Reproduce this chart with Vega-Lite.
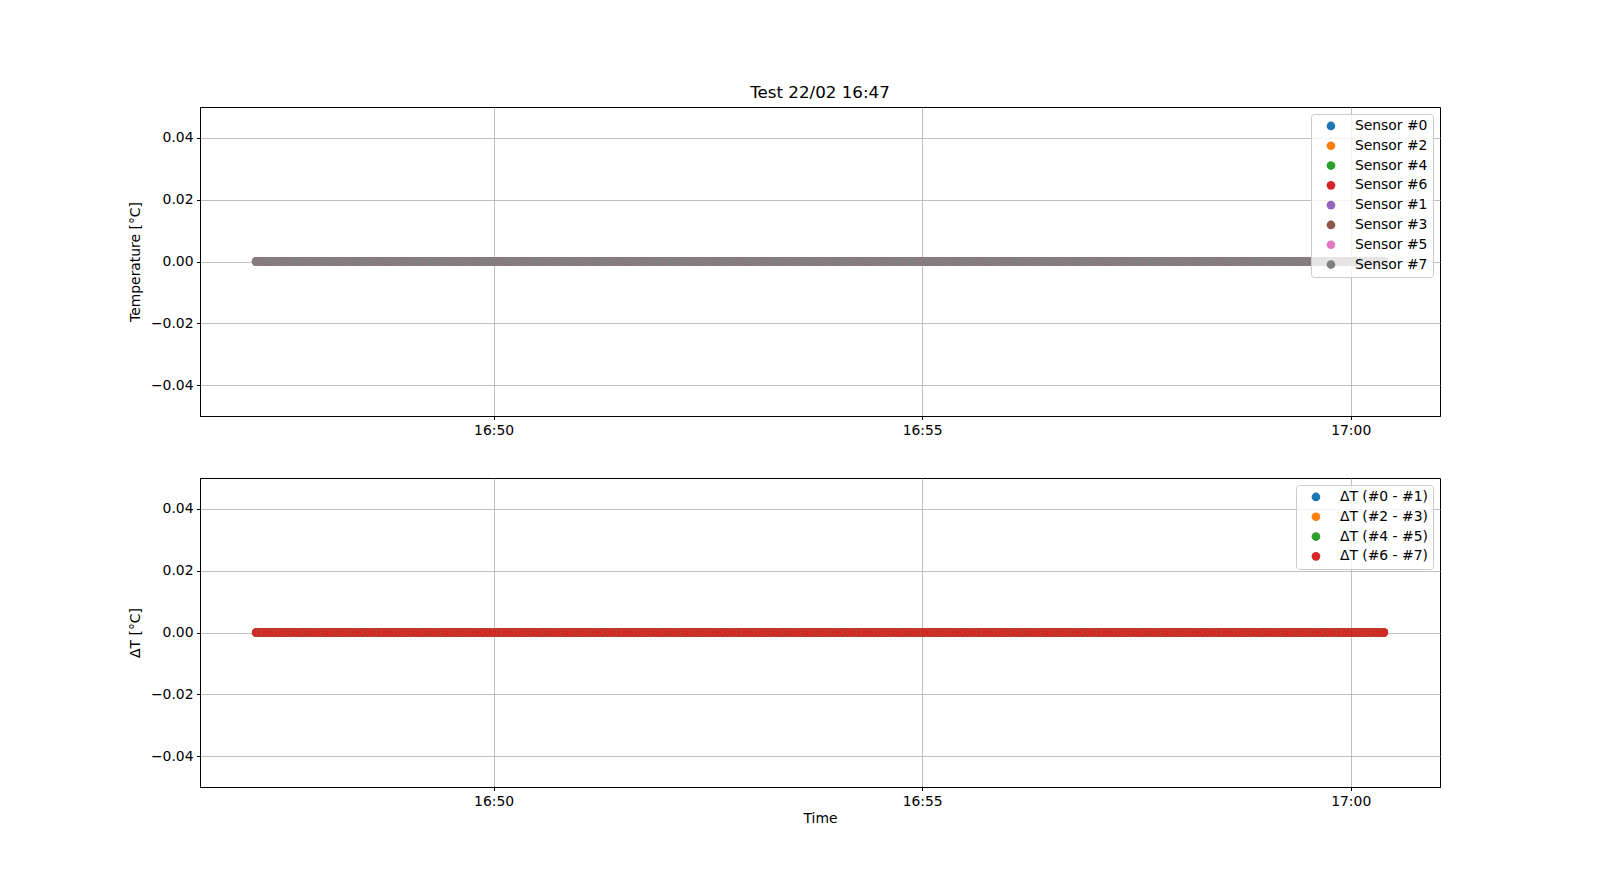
{
"$schema": "https://vega.github.io/schema/vega-lite/v6.json",
"padding": {"left": 127, "top": 84, "right": 10, "bottom": 10},
"background": "white",
"spacing": 39,
"resolve": {"scale": {"color": "independent"}, "legend": {"color": "independent"}},
"config": {
  "font": "DejaVu Sans",
  "view": {"stroke": "black", "strokeWidth": 1},
  "axis": {"labelFont": "DejaVu Sans", "titleFont": "DejaVu Sans", "labelFontSize": 13.9, "titleFontSize": 13.9, "titleFontWeight": "normal", "labelColor": "black", "titleColor": "black", "tickColor": "black", "domainColor": "black", "tickSize": 3.5, "labelPadding": 3.5, "gridColor": "#b0b0b0", "gridWidth": 0.8, "domainWidth": 1},
  "legend": {"labelFont": "DejaVu Sans", "labelFontSize": 13.9, "labelColor": "black", "symbolType": "circle", "symbolSize": 75, "symbolStrokeWidth": 0, "symbolOpacity": 1, "rowPadding": 4.8, "padding": 5, "strokeColor": "#cccccc", "fillColor": "rgba(255,255,255,0.8)", "cornerRadius": 3, "offset": 7, "labelOffset": 17, "symbolOffset": 8}
},
"datasets": {"d": [
{"t":"2023-02-22T16:47:14","a":0,"b":0,"c":0,"d":0,"e":0,"f":0,"g":0,"h":0,"p":0,"q":0,"r":0,"s":0},
{"t":"2023-02-22T16:47:17","a":0,"b":0,"c":0,"d":0,"e":0,"f":0,"g":0,"h":0,"p":0,"q":0,"r":0,"s":0},
{"t":"2023-02-22T16:47:20","a":0,"b":0,"c":0,"d":0,"e":0,"f":0,"g":0,"h":0,"p":0,"q":0,"r":0,"s":0},
{"t":"2023-02-22T16:47:23","a":0,"b":0,"c":0,"d":0,"e":0,"f":0,"g":0,"h":0,"p":0,"q":0,"r":0,"s":0},
{"t":"2023-02-22T16:47:26","a":0,"b":0,"c":0,"d":0,"e":0,"f":0,"g":0,"h":0,"p":0,"q":0,"r":0,"s":0},
{"t":"2023-02-22T16:47:29","a":0,"b":0,"c":0,"d":0,"e":0,"f":0,"g":0,"h":0,"p":0,"q":0,"r":0,"s":0},
{"t":"2023-02-22T16:47:32","a":0,"b":0,"c":0,"d":0,"e":0,"f":0,"g":0,"h":0,"p":0,"q":0,"r":0,"s":0},
{"t":"2023-02-22T16:47:35","a":0,"b":0,"c":0,"d":0,"e":0,"f":0,"g":0,"h":0,"p":0,"q":0,"r":0,"s":0},
{"t":"2023-02-22T16:47:38","a":0,"b":0,"c":0,"d":0,"e":0,"f":0,"g":0,"h":0,"p":0,"q":0,"r":0,"s":0},
{"t":"2023-02-22T16:47:41","a":0,"b":0,"c":0,"d":0,"e":0,"f":0,"g":0,"h":0,"p":0,"q":0,"r":0,"s":0},
{"t":"2023-02-22T16:47:44","a":0,"b":0,"c":0,"d":0,"e":0,"f":0,"g":0,"h":0,"p":0,"q":0,"r":0,"s":0},
{"t":"2023-02-22T16:47:47","a":0,"b":0,"c":0,"d":0,"e":0,"f":0,"g":0,"h":0,"p":0,"q":0,"r":0,"s":0},
{"t":"2023-02-22T16:47:50","a":0,"b":0,"c":0,"d":0,"e":0,"f":0,"g":0,"h":0,"p":0,"q":0,"r":0,"s":0},
{"t":"2023-02-22T16:47:53","a":0,"b":0,"c":0,"d":0,"e":0,"f":0,"g":0,"h":0,"p":0,"q":0,"r":0,"s":0},
{"t":"2023-02-22T16:47:56","a":0,"b":0,"c":0,"d":0,"e":0,"f":0,"g":0,"h":0,"p":0,"q":0,"r":0,"s":0},
{"t":"2023-02-22T16:47:59","a":0,"b":0,"c":0,"d":0,"e":0,"f":0,"g":0,"h":0,"p":0,"q":0,"r":0,"s":0},
{"t":"2023-02-22T16:48:02","a":0,"b":0,"c":0,"d":0,"e":0,"f":0,"g":0,"h":0,"p":0,"q":0,"r":0,"s":0},
{"t":"2023-02-22T16:48:05","a":0,"b":0,"c":0,"d":0,"e":0,"f":0,"g":0,"h":0,"p":0,"q":0,"r":0,"s":0},
{"t":"2023-02-22T16:48:08","a":0,"b":0,"c":0,"d":0,"e":0,"f":0,"g":0,"h":0,"p":0,"q":0,"r":0,"s":0},
{"t":"2023-02-22T16:48:11","a":0,"b":0,"c":0,"d":0,"e":0,"f":0,"g":0,"h":0,"p":0,"q":0,"r":0,"s":0},
{"t":"2023-02-22T16:48:14","a":0,"b":0,"c":0,"d":0,"e":0,"f":0,"g":0,"h":0,"p":0,"q":0,"r":0,"s":0},
{"t":"2023-02-22T16:48:17","a":0,"b":0,"c":0,"d":0,"e":0,"f":0,"g":0,"h":0,"p":0,"q":0,"r":0,"s":0},
{"t":"2023-02-22T16:48:20","a":0,"b":0,"c":0,"d":0,"e":0,"f":0,"g":0,"h":0,"p":0,"q":0,"r":0,"s":0},
{"t":"2023-02-22T16:48:23","a":0,"b":0,"c":0,"d":0,"e":0,"f":0,"g":0,"h":0,"p":0,"q":0,"r":0,"s":0},
{"t":"2023-02-22T16:48:26","a":0,"b":0,"c":0,"d":0,"e":0,"f":0,"g":0,"h":0,"p":0,"q":0,"r":0,"s":0},
{"t":"2023-02-22T16:48:29","a":0,"b":0,"c":0,"d":0,"e":0,"f":0,"g":0,"h":0,"p":0,"q":0,"r":0,"s":0},
{"t":"2023-02-22T16:48:32","a":0,"b":0,"c":0,"d":0,"e":0,"f":0,"g":0,"h":0,"p":0,"q":0,"r":0,"s":0},
{"t":"2023-02-22T16:48:35","a":0,"b":0,"c":0,"d":0,"e":0,"f":0,"g":0,"h":0,"p":0,"q":0,"r":0,"s":0},
{"t":"2023-02-22T16:48:38","a":0,"b":0,"c":0,"d":0,"e":0,"f":0,"g":0,"h":0,"p":0,"q":0,"r":0,"s":0},
{"t":"2023-02-22T16:48:41","a":0,"b":0,"c":0,"d":0,"e":0,"f":0,"g":0,"h":0,"p":0,"q":0,"r":0,"s":0},
{"t":"2023-02-22T16:48:44","a":0,"b":0,"c":0,"d":0,"e":0,"f":0,"g":0,"h":0,"p":0,"q":0,"r":0,"s":0},
{"t":"2023-02-22T16:48:47","a":0,"b":0,"c":0,"d":0,"e":0,"f":0,"g":0,"h":0,"p":0,"q":0,"r":0,"s":0},
{"t":"2023-02-22T16:48:50","a":0,"b":0,"c":0,"d":0,"e":0,"f":0,"g":0,"h":0,"p":0,"q":0,"r":0,"s":0},
{"t":"2023-02-22T16:48:53","a":0,"b":0,"c":0,"d":0,"e":0,"f":0,"g":0,"h":0,"p":0,"q":0,"r":0,"s":0},
{"t":"2023-02-22T16:48:56","a":0,"b":0,"c":0,"d":0,"e":0,"f":0,"g":0,"h":0,"p":0,"q":0,"r":0,"s":0},
{"t":"2023-02-22T16:48:59","a":0,"b":0,"c":0,"d":0,"e":0,"f":0,"g":0,"h":0,"p":0,"q":0,"r":0,"s":0},
{"t":"2023-02-22T16:49:02","a":0,"b":0,"c":0,"d":0,"e":0,"f":0,"g":0,"h":0,"p":0,"q":0,"r":0,"s":0},
{"t":"2023-02-22T16:49:05","a":0,"b":0,"c":0,"d":0,"e":0,"f":0,"g":0,"h":0,"p":0,"q":0,"r":0,"s":0},
{"t":"2023-02-22T16:49:08","a":0,"b":0,"c":0,"d":0,"e":0,"f":0,"g":0,"h":0,"p":0,"q":0,"r":0,"s":0},
{"t":"2023-02-22T16:49:11","a":0,"b":0,"c":0,"d":0,"e":0,"f":0,"g":0,"h":0,"p":0,"q":0,"r":0,"s":0},
{"t":"2023-02-22T16:49:14","a":0,"b":0,"c":0,"d":0,"e":0,"f":0,"g":0,"h":0,"p":0,"q":0,"r":0,"s":0},
{"t":"2023-02-22T16:49:17","a":0,"b":0,"c":0,"d":0,"e":0,"f":0,"g":0,"h":0,"p":0,"q":0,"r":0,"s":0},
{"t":"2023-02-22T16:49:20","a":0,"b":0,"c":0,"d":0,"e":0,"f":0,"g":0,"h":0,"p":0,"q":0,"r":0,"s":0},
{"t":"2023-02-22T16:49:23","a":0,"b":0,"c":0,"d":0,"e":0,"f":0,"g":0,"h":0,"p":0,"q":0,"r":0,"s":0},
{"t":"2023-02-22T16:49:26","a":0,"b":0,"c":0,"d":0,"e":0,"f":0,"g":0,"h":0,"p":0,"q":0,"r":0,"s":0},
{"t":"2023-02-22T16:49:29","a":0,"b":0,"c":0,"d":0,"e":0,"f":0,"g":0,"h":0,"p":0,"q":0,"r":0,"s":0},
{"t":"2023-02-22T16:49:32","a":0,"b":0,"c":0,"d":0,"e":0,"f":0,"g":0,"h":0,"p":0,"q":0,"r":0,"s":0},
{"t":"2023-02-22T16:49:35","a":0,"b":0,"c":0,"d":0,"e":0,"f":0,"g":0,"h":0,"p":0,"q":0,"r":0,"s":0},
{"t":"2023-02-22T16:49:38","a":0,"b":0,"c":0,"d":0,"e":0,"f":0,"g":0,"h":0,"p":0,"q":0,"r":0,"s":0},
{"t":"2023-02-22T16:49:41","a":0,"b":0,"c":0,"d":0,"e":0,"f":0,"g":0,"h":0,"p":0,"q":0,"r":0,"s":0},
{"t":"2023-02-22T16:49:44","a":0,"b":0,"c":0,"d":0,"e":0,"f":0,"g":0,"h":0,"p":0,"q":0,"r":0,"s":0},
{"t":"2023-02-22T16:49:47","a":0,"b":0,"c":0,"d":0,"e":0,"f":0,"g":0,"h":0,"p":0,"q":0,"r":0,"s":0},
{"t":"2023-02-22T16:49:50","a":0,"b":0,"c":0,"d":0,"e":0,"f":0,"g":0,"h":0,"p":0,"q":0,"r":0,"s":0},
{"t":"2023-02-22T16:49:53","a":0,"b":0,"c":0,"d":0,"e":0,"f":0,"g":0,"h":0,"p":0,"q":0,"r":0,"s":0},
{"t":"2023-02-22T16:49:56","a":0,"b":0,"c":0,"d":0,"e":0,"f":0,"g":0,"h":0,"p":0,"q":0,"r":0,"s":0},
{"t":"2023-02-22T16:49:59","a":0,"b":0,"c":0,"d":0,"e":0,"f":0,"g":0,"h":0,"p":0,"q":0,"r":0,"s":0},
{"t":"2023-02-22T16:50:02","a":0,"b":0,"c":0,"d":0,"e":0,"f":0,"g":0,"h":0,"p":0,"q":0,"r":0,"s":0},
{"t":"2023-02-22T16:50:05","a":0,"b":0,"c":0,"d":0,"e":0,"f":0,"g":0,"h":0,"p":0,"q":0,"r":0,"s":0},
{"t":"2023-02-22T16:50:08","a":0,"b":0,"c":0,"d":0,"e":0,"f":0,"g":0,"h":0,"p":0,"q":0,"r":0,"s":0},
{"t":"2023-02-22T16:50:11","a":0,"b":0,"c":0,"d":0,"e":0,"f":0,"g":0,"h":0,"p":0,"q":0,"r":0,"s":0},
{"t":"2023-02-22T16:50:14","a":0,"b":0,"c":0,"d":0,"e":0,"f":0,"g":0,"h":0,"p":0,"q":0,"r":0,"s":0},
{"t":"2023-02-22T16:50:17","a":0,"b":0,"c":0,"d":0,"e":0,"f":0,"g":0,"h":0,"p":0,"q":0,"r":0,"s":0},
{"t":"2023-02-22T16:50:20","a":0,"b":0,"c":0,"d":0,"e":0,"f":0,"g":0,"h":0,"p":0,"q":0,"r":0,"s":0},
{"t":"2023-02-22T16:50:23","a":0,"b":0,"c":0,"d":0,"e":0,"f":0,"g":0,"h":0,"p":0,"q":0,"r":0,"s":0},
{"t":"2023-02-22T16:50:26","a":0,"b":0,"c":0,"d":0,"e":0,"f":0,"g":0,"h":0,"p":0,"q":0,"r":0,"s":0},
{"t":"2023-02-22T16:50:29","a":0,"b":0,"c":0,"d":0,"e":0,"f":0,"g":0,"h":0,"p":0,"q":0,"r":0,"s":0},
{"t":"2023-02-22T16:50:32","a":0,"b":0,"c":0,"d":0,"e":0,"f":0,"g":0,"h":0,"p":0,"q":0,"r":0,"s":0},
{"t":"2023-02-22T16:50:35","a":0,"b":0,"c":0,"d":0,"e":0,"f":0,"g":0,"h":0,"p":0,"q":0,"r":0,"s":0},
{"t":"2023-02-22T16:50:38","a":0,"b":0,"c":0,"d":0,"e":0,"f":0,"g":0,"h":0,"p":0,"q":0,"r":0,"s":0},
{"t":"2023-02-22T16:50:41","a":0,"b":0,"c":0,"d":0,"e":0,"f":0,"g":0,"h":0,"p":0,"q":0,"r":0,"s":0},
{"t":"2023-02-22T16:50:44","a":0,"b":0,"c":0,"d":0,"e":0,"f":0,"g":0,"h":0,"p":0,"q":0,"r":0,"s":0},
{"t":"2023-02-22T16:50:47","a":0,"b":0,"c":0,"d":0,"e":0,"f":0,"g":0,"h":0,"p":0,"q":0,"r":0,"s":0},
{"t":"2023-02-22T16:50:50","a":0,"b":0,"c":0,"d":0,"e":0,"f":0,"g":0,"h":0,"p":0,"q":0,"r":0,"s":0},
{"t":"2023-02-22T16:50:53","a":0,"b":0,"c":0,"d":0,"e":0,"f":0,"g":0,"h":0,"p":0,"q":0,"r":0,"s":0},
{"t":"2023-02-22T16:50:56","a":0,"b":0,"c":0,"d":0,"e":0,"f":0,"g":0,"h":0,"p":0,"q":0,"r":0,"s":0},
{"t":"2023-02-22T16:50:59","a":0,"b":0,"c":0,"d":0,"e":0,"f":0,"g":0,"h":0,"p":0,"q":0,"r":0,"s":0},
{"t":"2023-02-22T16:51:02","a":0,"b":0,"c":0,"d":0,"e":0,"f":0,"g":0,"h":0,"p":0,"q":0,"r":0,"s":0},
{"t":"2023-02-22T16:51:05","a":0,"b":0,"c":0,"d":0,"e":0,"f":0,"g":0,"h":0,"p":0,"q":0,"r":0,"s":0},
{"t":"2023-02-22T16:51:08","a":0,"b":0,"c":0,"d":0,"e":0,"f":0,"g":0,"h":0,"p":0,"q":0,"r":0,"s":0},
{"t":"2023-02-22T16:51:11","a":0,"b":0,"c":0,"d":0,"e":0,"f":0,"g":0,"h":0,"p":0,"q":0,"r":0,"s":0},
{"t":"2023-02-22T16:51:14","a":0,"b":0,"c":0,"d":0,"e":0,"f":0,"g":0,"h":0,"p":0,"q":0,"r":0,"s":0},
{"t":"2023-02-22T16:51:17","a":0,"b":0,"c":0,"d":0,"e":0,"f":0,"g":0,"h":0,"p":0,"q":0,"r":0,"s":0},
{"t":"2023-02-22T16:51:20","a":0,"b":0,"c":0,"d":0,"e":0,"f":0,"g":0,"h":0,"p":0,"q":0,"r":0,"s":0},
{"t":"2023-02-22T16:51:23","a":0,"b":0,"c":0,"d":0,"e":0,"f":0,"g":0,"h":0,"p":0,"q":0,"r":0,"s":0},
{"t":"2023-02-22T16:51:26","a":0,"b":0,"c":0,"d":0,"e":0,"f":0,"g":0,"h":0,"p":0,"q":0,"r":0,"s":0},
{"t":"2023-02-22T16:51:29","a":0,"b":0,"c":0,"d":0,"e":0,"f":0,"g":0,"h":0,"p":0,"q":0,"r":0,"s":0},
{"t":"2023-02-22T16:51:32","a":0,"b":0,"c":0,"d":0,"e":0,"f":0,"g":0,"h":0,"p":0,"q":0,"r":0,"s":0},
{"t":"2023-02-22T16:51:35","a":0,"b":0,"c":0,"d":0,"e":0,"f":0,"g":0,"h":0,"p":0,"q":0,"r":0,"s":0},
{"t":"2023-02-22T16:51:38","a":0,"b":0,"c":0,"d":0,"e":0,"f":0,"g":0,"h":0,"p":0,"q":0,"r":0,"s":0},
{"t":"2023-02-22T16:51:41","a":0,"b":0,"c":0,"d":0,"e":0,"f":0,"g":0,"h":0,"p":0,"q":0,"r":0,"s":0},
{"t":"2023-02-22T16:51:44","a":0,"b":0,"c":0,"d":0,"e":0,"f":0,"g":0,"h":0,"p":0,"q":0,"r":0,"s":0},
{"t":"2023-02-22T16:51:47","a":0,"b":0,"c":0,"d":0,"e":0,"f":0,"g":0,"h":0,"p":0,"q":0,"r":0,"s":0},
{"t":"2023-02-22T16:51:50","a":0,"b":0,"c":0,"d":0,"e":0,"f":0,"g":0,"h":0,"p":0,"q":0,"r":0,"s":0},
{"t":"2023-02-22T16:51:53","a":0,"b":0,"c":0,"d":0,"e":0,"f":0,"g":0,"h":0,"p":0,"q":0,"r":0,"s":0},
{"t":"2023-02-22T16:51:56","a":0,"b":0,"c":0,"d":0,"e":0,"f":0,"g":0,"h":0,"p":0,"q":0,"r":0,"s":0},
{"t":"2023-02-22T16:51:59","a":0,"b":0,"c":0,"d":0,"e":0,"f":0,"g":0,"h":0,"p":0,"q":0,"r":0,"s":0},
{"t":"2023-02-22T16:52:02","a":0,"b":0,"c":0,"d":0,"e":0,"f":0,"g":0,"h":0,"p":0,"q":0,"r":0,"s":0},
{"t":"2023-02-22T16:52:05","a":0,"b":0,"c":0,"d":0,"e":0,"f":0,"g":0,"h":0,"p":0,"q":0,"r":0,"s":0},
{"t":"2023-02-22T16:52:08","a":0,"b":0,"c":0,"d":0,"e":0,"f":0,"g":0,"h":0,"p":0,"q":0,"r":0,"s":0},
{"t":"2023-02-22T16:52:11","a":0,"b":0,"c":0,"d":0,"e":0,"f":0,"g":0,"h":0,"p":0,"q":0,"r":0,"s":0},
{"t":"2023-02-22T16:52:14","a":0,"b":0,"c":0,"d":0,"e":0,"f":0,"g":0,"h":0,"p":0,"q":0,"r":0,"s":0},
{"t":"2023-02-22T16:52:17","a":0,"b":0,"c":0,"d":0,"e":0,"f":0,"g":0,"h":0,"p":0,"q":0,"r":0,"s":0},
{"t":"2023-02-22T16:52:20","a":0,"b":0,"c":0,"d":0,"e":0,"f":0,"g":0,"h":0,"p":0,"q":0,"r":0,"s":0},
{"t":"2023-02-22T16:52:23","a":0,"b":0,"c":0,"d":0,"e":0,"f":0,"g":0,"h":0,"p":0,"q":0,"r":0,"s":0},
{"t":"2023-02-22T16:52:26","a":0,"b":0,"c":0,"d":0,"e":0,"f":0,"g":0,"h":0,"p":0,"q":0,"r":0,"s":0},
{"t":"2023-02-22T16:52:29","a":0,"b":0,"c":0,"d":0,"e":0,"f":0,"g":0,"h":0,"p":0,"q":0,"r":0,"s":0},
{"t":"2023-02-22T16:52:32","a":0,"b":0,"c":0,"d":0,"e":0,"f":0,"g":0,"h":0,"p":0,"q":0,"r":0,"s":0},
{"t":"2023-02-22T16:52:35","a":0,"b":0,"c":0,"d":0,"e":0,"f":0,"g":0,"h":0,"p":0,"q":0,"r":0,"s":0},
{"t":"2023-02-22T16:52:38","a":0,"b":0,"c":0,"d":0,"e":0,"f":0,"g":0,"h":0,"p":0,"q":0,"r":0,"s":0},
{"t":"2023-02-22T16:52:41","a":0,"b":0,"c":0,"d":0,"e":0,"f":0,"g":0,"h":0,"p":0,"q":0,"r":0,"s":0},
{"t":"2023-02-22T16:52:44","a":0,"b":0,"c":0,"d":0,"e":0,"f":0,"g":0,"h":0,"p":0,"q":0,"r":0,"s":0},
{"t":"2023-02-22T16:52:47","a":0,"b":0,"c":0,"d":0,"e":0,"f":0,"g":0,"h":0,"p":0,"q":0,"r":0,"s":0},
{"t":"2023-02-22T16:52:50","a":0,"b":0,"c":0,"d":0,"e":0,"f":0,"g":0,"h":0,"p":0,"q":0,"r":0,"s":0},
{"t":"2023-02-22T16:52:53","a":0,"b":0,"c":0,"d":0,"e":0,"f":0,"g":0,"h":0,"p":0,"q":0,"r":0,"s":0},
{"t":"2023-02-22T16:52:56","a":0,"b":0,"c":0,"d":0,"e":0,"f":0,"g":0,"h":0,"p":0,"q":0,"r":0,"s":0},
{"t":"2023-02-22T16:52:59","a":0,"b":0,"c":0,"d":0,"e":0,"f":0,"g":0,"h":0,"p":0,"q":0,"r":0,"s":0},
{"t":"2023-02-22T16:53:02","a":0,"b":0,"c":0,"d":0,"e":0,"f":0,"g":0,"h":0,"p":0,"q":0,"r":0,"s":0},
{"t":"2023-02-22T16:53:05","a":0,"b":0,"c":0,"d":0,"e":0,"f":0,"g":0,"h":0,"p":0,"q":0,"r":0,"s":0},
{"t":"2023-02-22T16:53:08","a":0,"b":0,"c":0,"d":0,"e":0,"f":0,"g":0,"h":0,"p":0,"q":0,"r":0,"s":0},
{"t":"2023-02-22T16:53:11","a":0,"b":0,"c":0,"d":0,"e":0,"f":0,"g":0,"h":0,"p":0,"q":0,"r":0,"s":0},
{"t":"2023-02-22T16:53:14","a":0,"b":0,"c":0,"d":0,"e":0,"f":0,"g":0,"h":0,"p":0,"q":0,"r":0,"s":0},
{"t":"2023-02-22T16:53:17","a":0,"b":0,"c":0,"d":0,"e":0,"f":0,"g":0,"h":0,"p":0,"q":0,"r":0,"s":0},
{"t":"2023-02-22T16:53:20","a":0,"b":0,"c":0,"d":0,"e":0,"f":0,"g":0,"h":0,"p":0,"q":0,"r":0,"s":0},
{"t":"2023-02-22T16:53:23","a":0,"b":0,"c":0,"d":0,"e":0,"f":0,"g":0,"h":0,"p":0,"q":0,"r":0,"s":0},
{"t":"2023-02-22T16:53:26","a":0,"b":0,"c":0,"d":0,"e":0,"f":0,"g":0,"h":0,"p":0,"q":0,"r":0,"s":0},
{"t":"2023-02-22T16:53:29","a":0,"b":0,"c":0,"d":0,"e":0,"f":0,"g":0,"h":0,"p":0,"q":0,"r":0,"s":0},
{"t":"2023-02-22T16:53:32","a":0,"b":0,"c":0,"d":0,"e":0,"f":0,"g":0,"h":0,"p":0,"q":0,"r":0,"s":0},
{"t":"2023-02-22T16:53:35","a":0,"b":0,"c":0,"d":0,"e":0,"f":0,"g":0,"h":0,"p":0,"q":0,"r":0,"s":0},
{"t":"2023-02-22T16:53:38","a":0,"b":0,"c":0,"d":0,"e":0,"f":0,"g":0,"h":0,"p":0,"q":0,"r":0,"s":0},
{"t":"2023-02-22T16:53:41","a":0,"b":0,"c":0,"d":0,"e":0,"f":0,"g":0,"h":0,"p":0,"q":0,"r":0,"s":0},
{"t":"2023-02-22T16:53:44","a":0,"b":0,"c":0,"d":0,"e":0,"f":0,"g":0,"h":0,"p":0,"q":0,"r":0,"s":0},
{"t":"2023-02-22T16:53:47","a":0,"b":0,"c":0,"d":0,"e":0,"f":0,"g":0,"h":0,"p":0,"q":0,"r":0,"s":0},
{"t":"2023-02-22T16:53:50","a":0,"b":0,"c":0,"d":0,"e":0,"f":0,"g":0,"h":0,"p":0,"q":0,"r":0,"s":0},
{"t":"2023-02-22T16:53:53","a":0,"b":0,"c":0,"d":0,"e":0,"f":0,"g":0,"h":0,"p":0,"q":0,"r":0,"s":0},
{"t":"2023-02-22T16:53:56","a":0,"b":0,"c":0,"d":0,"e":0,"f":0,"g":0,"h":0,"p":0,"q":0,"r":0,"s":0},
{"t":"2023-02-22T16:53:59","a":0,"b":0,"c":0,"d":0,"e":0,"f":0,"g":0,"h":0,"p":0,"q":0,"r":0,"s":0},
{"t":"2023-02-22T16:54:02","a":0,"b":0,"c":0,"d":0,"e":0,"f":0,"g":0,"h":0,"p":0,"q":0,"r":0,"s":0},
{"t":"2023-02-22T16:54:05","a":0,"b":0,"c":0,"d":0,"e":0,"f":0,"g":0,"h":0,"p":0,"q":0,"r":0,"s":0},
{"t":"2023-02-22T16:54:08","a":0,"b":0,"c":0,"d":0,"e":0,"f":0,"g":0,"h":0,"p":0,"q":0,"r":0,"s":0},
{"t":"2023-02-22T16:54:11","a":0,"b":0,"c":0,"d":0,"e":0,"f":0,"g":0,"h":0,"p":0,"q":0,"r":0,"s":0},
{"t":"2023-02-22T16:54:14","a":0,"b":0,"c":0,"d":0,"e":0,"f":0,"g":0,"h":0,"p":0,"q":0,"r":0,"s":0},
{"t":"2023-02-22T16:54:17","a":0,"b":0,"c":0,"d":0,"e":0,"f":0,"g":0,"h":0,"p":0,"q":0,"r":0,"s":0},
{"t":"2023-02-22T16:54:20","a":0,"b":0,"c":0,"d":0,"e":0,"f":0,"g":0,"h":0,"p":0,"q":0,"r":0,"s":0},
{"t":"2023-02-22T16:54:23","a":0,"b":0,"c":0,"d":0,"e":0,"f":0,"g":0,"h":0,"p":0,"q":0,"r":0,"s":0},
{"t":"2023-02-22T16:54:26","a":0,"b":0,"c":0,"d":0,"e":0,"f":0,"g":0,"h":0,"p":0,"q":0,"r":0,"s":0},
{"t":"2023-02-22T16:54:29","a":0,"b":0,"c":0,"d":0,"e":0,"f":0,"g":0,"h":0,"p":0,"q":0,"r":0,"s":0},
{"t":"2023-02-22T16:54:32","a":0,"b":0,"c":0,"d":0,"e":0,"f":0,"g":0,"h":0,"p":0,"q":0,"r":0,"s":0},
{"t":"2023-02-22T16:54:35","a":0,"b":0,"c":0,"d":0,"e":0,"f":0,"g":0,"h":0,"p":0,"q":0,"r":0,"s":0},
{"t":"2023-02-22T16:54:38","a":0,"b":0,"c":0,"d":0,"e":0,"f":0,"g":0,"h":0,"p":0,"q":0,"r":0,"s":0},
{"t":"2023-02-22T16:54:41","a":0,"b":0,"c":0,"d":0,"e":0,"f":0,"g":0,"h":0,"p":0,"q":0,"r":0,"s":0},
{"t":"2023-02-22T16:54:44","a":0,"b":0,"c":0,"d":0,"e":0,"f":0,"g":0,"h":0,"p":0,"q":0,"r":0,"s":0},
{"t":"2023-02-22T16:54:47","a":0,"b":0,"c":0,"d":0,"e":0,"f":0,"g":0,"h":0,"p":0,"q":0,"r":0,"s":0},
{"t":"2023-02-22T16:54:50","a":0,"b":0,"c":0,"d":0,"e":0,"f":0,"g":0,"h":0,"p":0,"q":0,"r":0,"s":0},
{"t":"2023-02-22T16:54:53","a":0,"b":0,"c":0,"d":0,"e":0,"f":0,"g":0,"h":0,"p":0,"q":0,"r":0,"s":0},
{"t":"2023-02-22T16:54:56","a":0,"b":0,"c":0,"d":0,"e":0,"f":0,"g":0,"h":0,"p":0,"q":0,"r":0,"s":0},
{"t":"2023-02-22T16:54:59","a":0,"b":0,"c":0,"d":0,"e":0,"f":0,"g":0,"h":0,"p":0,"q":0,"r":0,"s":0},
{"t":"2023-02-22T16:55:02","a":0,"b":0,"c":0,"d":0,"e":0,"f":0,"g":0,"h":0,"p":0,"q":0,"r":0,"s":0},
{"t":"2023-02-22T16:55:05","a":0,"b":0,"c":0,"d":0,"e":0,"f":0,"g":0,"h":0,"p":0,"q":0,"r":0,"s":0},
{"t":"2023-02-22T16:55:08","a":0,"b":0,"c":0,"d":0,"e":0,"f":0,"g":0,"h":0,"p":0,"q":0,"r":0,"s":0},
{"t":"2023-02-22T16:55:11","a":0,"b":0,"c":0,"d":0,"e":0,"f":0,"g":0,"h":0,"p":0,"q":0,"r":0,"s":0},
{"t":"2023-02-22T16:55:14","a":0,"b":0,"c":0,"d":0,"e":0,"f":0,"g":0,"h":0,"p":0,"q":0,"r":0,"s":0},
{"t":"2023-02-22T16:55:17","a":0,"b":0,"c":0,"d":0,"e":0,"f":0,"g":0,"h":0,"p":0,"q":0,"r":0,"s":0},
{"t":"2023-02-22T16:55:20","a":0,"b":0,"c":0,"d":0,"e":0,"f":0,"g":0,"h":0,"p":0,"q":0,"r":0,"s":0},
{"t":"2023-02-22T16:55:23","a":0,"b":0,"c":0,"d":0,"e":0,"f":0,"g":0,"h":0,"p":0,"q":0,"r":0,"s":0},
{"t":"2023-02-22T16:55:26","a":0,"b":0,"c":0,"d":0,"e":0,"f":0,"g":0,"h":0,"p":0,"q":0,"r":0,"s":0},
{"t":"2023-02-22T16:55:29","a":0,"b":0,"c":0,"d":0,"e":0,"f":0,"g":0,"h":0,"p":0,"q":0,"r":0,"s":0},
{"t":"2023-02-22T16:55:32","a":0,"b":0,"c":0,"d":0,"e":0,"f":0,"g":0,"h":0,"p":0,"q":0,"r":0,"s":0},
{"t":"2023-02-22T16:55:35","a":0,"b":0,"c":0,"d":0,"e":0,"f":0,"g":0,"h":0,"p":0,"q":0,"r":0,"s":0},
{"t":"2023-02-22T16:55:38","a":0,"b":0,"c":0,"d":0,"e":0,"f":0,"g":0,"h":0,"p":0,"q":0,"r":0,"s":0},
{"t":"2023-02-22T16:55:41","a":0,"b":0,"c":0,"d":0,"e":0,"f":0,"g":0,"h":0,"p":0,"q":0,"r":0,"s":0},
{"t":"2023-02-22T16:55:44","a":0,"b":0,"c":0,"d":0,"e":0,"f":0,"g":0,"h":0,"p":0,"q":0,"r":0,"s":0},
{"t":"2023-02-22T16:55:47","a":0,"b":0,"c":0,"d":0,"e":0,"f":0,"g":0,"h":0,"p":0,"q":0,"r":0,"s":0},
{"t":"2023-02-22T16:55:50","a":0,"b":0,"c":0,"d":0,"e":0,"f":0,"g":0,"h":0,"p":0,"q":0,"r":0,"s":0},
{"t":"2023-02-22T16:55:53","a":0,"b":0,"c":0,"d":0,"e":0,"f":0,"g":0,"h":0,"p":0,"q":0,"r":0,"s":0},
{"t":"2023-02-22T16:55:56","a":0,"b":0,"c":0,"d":0,"e":0,"f":0,"g":0,"h":0,"p":0,"q":0,"r":0,"s":0},
{"t":"2023-02-22T16:55:59","a":0,"b":0,"c":0,"d":0,"e":0,"f":0,"g":0,"h":0,"p":0,"q":0,"r":0,"s":0},
{"t":"2023-02-22T16:56:02","a":0,"b":0,"c":0,"d":0,"e":0,"f":0,"g":0,"h":0,"p":0,"q":0,"r":0,"s":0},
{"t":"2023-02-22T16:56:05","a":0,"b":0,"c":0,"d":0,"e":0,"f":0,"g":0,"h":0,"p":0,"q":0,"r":0,"s":0},
{"t":"2023-02-22T16:56:08","a":0,"b":0,"c":0,"d":0,"e":0,"f":0,"g":0,"h":0,"p":0,"q":0,"r":0,"s":0},
{"t":"2023-02-22T16:56:11","a":0,"b":0,"c":0,"d":0,"e":0,"f":0,"g":0,"h":0,"p":0,"q":0,"r":0,"s":0},
{"t":"2023-02-22T16:56:14","a":0,"b":0,"c":0,"d":0,"e":0,"f":0,"g":0,"h":0,"p":0,"q":0,"r":0,"s":0},
{"t":"2023-02-22T16:56:17","a":0,"b":0,"c":0,"d":0,"e":0,"f":0,"g":0,"h":0,"p":0,"q":0,"r":0,"s":0},
{"t":"2023-02-22T16:56:20","a":0,"b":0,"c":0,"d":0,"e":0,"f":0,"g":0,"h":0,"p":0,"q":0,"r":0,"s":0},
{"t":"2023-02-22T16:56:23","a":0,"b":0,"c":0,"d":0,"e":0,"f":0,"g":0,"h":0,"p":0,"q":0,"r":0,"s":0},
{"t":"2023-02-22T16:56:26","a":0,"b":0,"c":0,"d":0,"e":0,"f":0,"g":0,"h":0,"p":0,"q":0,"r":0,"s":0},
{"t":"2023-02-22T16:56:29","a":0,"b":0,"c":0,"d":0,"e":0,"f":0,"g":0,"h":0,"p":0,"q":0,"r":0,"s":0},
{"t":"2023-02-22T16:56:32","a":0,"b":0,"c":0,"d":0,"e":0,"f":0,"g":0,"h":0,"p":0,"q":0,"r":0,"s":0},
{"t":"2023-02-22T16:56:35","a":0,"b":0,"c":0,"d":0,"e":0,"f":0,"g":0,"h":0,"p":0,"q":0,"r":0,"s":0},
{"t":"2023-02-22T16:56:38","a":0,"b":0,"c":0,"d":0,"e":0,"f":0,"g":0,"h":0,"p":0,"q":0,"r":0,"s":0},
{"t":"2023-02-22T16:56:41","a":0,"b":0,"c":0,"d":0,"e":0,"f":0,"g":0,"h":0,"p":0,"q":0,"r":0,"s":0},
{"t":"2023-02-22T16:56:44","a":0,"b":0,"c":0,"d":0,"e":0,"f":0,"g":0,"h":0,"p":0,"q":0,"r":0,"s":0},
{"t":"2023-02-22T16:56:47","a":0,"b":0,"c":0,"d":0,"e":0,"f":0,"g":0,"h":0,"p":0,"q":0,"r":0,"s":0},
{"t":"2023-02-22T16:56:50","a":0,"b":0,"c":0,"d":0,"e":0,"f":0,"g":0,"h":0,"p":0,"q":0,"r":0,"s":0},
{"t":"2023-02-22T16:56:53","a":0,"b":0,"c":0,"d":0,"e":0,"f":0,"g":0,"h":0,"p":0,"q":0,"r":0,"s":0},
{"t":"2023-02-22T16:56:56","a":0,"b":0,"c":0,"d":0,"e":0,"f":0,"g":0,"h":0,"p":0,"q":0,"r":0,"s":0},
{"t":"2023-02-22T16:56:59","a":0,"b":0,"c":0,"d":0,"e":0,"f":0,"g":0,"h":0,"p":0,"q":0,"r":0,"s":0},
{"t":"2023-02-22T16:57:02","a":0,"b":0,"c":0,"d":0,"e":0,"f":0,"g":0,"h":0,"p":0,"q":0,"r":0,"s":0},
{"t":"2023-02-22T16:57:05","a":0,"b":0,"c":0,"d":0,"e":0,"f":0,"g":0,"h":0,"p":0,"q":0,"r":0,"s":0},
{"t":"2023-02-22T16:57:08","a":0,"b":0,"c":0,"d":0,"e":0,"f":0,"g":0,"h":0,"p":0,"q":0,"r":0,"s":0},
{"t":"2023-02-22T16:57:11","a":0,"b":0,"c":0,"d":0,"e":0,"f":0,"g":0,"h":0,"p":0,"q":0,"r":0,"s":0},
{"t":"2023-02-22T16:57:14","a":0,"b":0,"c":0,"d":0,"e":0,"f":0,"g":0,"h":0,"p":0,"q":0,"r":0,"s":0},
{"t":"2023-02-22T16:57:17","a":0,"b":0,"c":0,"d":0,"e":0,"f":0,"g":0,"h":0,"p":0,"q":0,"r":0,"s":0},
{"t":"2023-02-22T16:57:20","a":0,"b":0,"c":0,"d":0,"e":0,"f":0,"g":0,"h":0,"p":0,"q":0,"r":0,"s":0},
{"t":"2023-02-22T16:57:23","a":0,"b":0,"c":0,"d":0,"e":0,"f":0,"g":0,"h":0,"p":0,"q":0,"r":0,"s":0},
{"t":"2023-02-22T16:57:26","a":0,"b":0,"c":0,"d":0,"e":0,"f":0,"g":0,"h":0,"p":0,"q":0,"r":0,"s":0},
{"t":"2023-02-22T16:57:29","a":0,"b":0,"c":0,"d":0,"e":0,"f":0,"g":0,"h":0,"p":0,"q":0,"r":0,"s":0},
{"t":"2023-02-22T16:57:32","a":0,"b":0,"c":0,"d":0,"e":0,"f":0,"g":0,"h":0,"p":0,"q":0,"r":0,"s":0},
{"t":"2023-02-22T16:57:35","a":0,"b":0,"c":0,"d":0,"e":0,"f":0,"g":0,"h":0,"p":0,"q":0,"r":0,"s":0},
{"t":"2023-02-22T16:57:38","a":0,"b":0,"c":0,"d":0,"e":0,"f":0,"g":0,"h":0,"p":0,"q":0,"r":0,"s":0},
{"t":"2023-02-22T16:57:41","a":0,"b":0,"c":0,"d":0,"e":0,"f":0,"g":0,"h":0,"p":0,"q":0,"r":0,"s":0},
{"t":"2023-02-22T16:57:44","a":0,"b":0,"c":0,"d":0,"e":0,"f":0,"g":0,"h":0,"p":0,"q":0,"r":0,"s":0},
{"t":"2023-02-22T16:57:47","a":0,"b":0,"c":0,"d":0,"e":0,"f":0,"g":0,"h":0,"p":0,"q":0,"r":0,"s":0},
{"t":"2023-02-22T16:57:50","a":0,"b":0,"c":0,"d":0,"e":0,"f":0,"g":0,"h":0,"p":0,"q":0,"r":0,"s":0},
{"t":"2023-02-22T16:57:53","a":0,"b":0,"c":0,"d":0,"e":0,"f":0,"g":0,"h":0,"p":0,"q":0,"r":0,"s":0},
{"t":"2023-02-22T16:57:56","a":0,"b":0,"c":0,"d":0,"e":0,"f":0,"g":0,"h":0,"p":0,"q":0,"r":0,"s":0},
{"t":"2023-02-22T16:57:59","a":0,"b":0,"c":0,"d":0,"e":0,"f":0,"g":0,"h":0,"p":0,"q":0,"r":0,"s":0},
{"t":"2023-02-22T16:58:02","a":0,"b":0,"c":0,"d":0,"e":0,"f":0,"g":0,"h":0,"p":0,"q":0,"r":0,"s":0},
{"t":"2023-02-22T16:58:05","a":0,"b":0,"c":0,"d":0,"e":0,"f":0,"g":0,"h":0,"p":0,"q":0,"r":0,"s":0},
{"t":"2023-02-22T16:58:08","a":0,"b":0,"c":0,"d":0,"e":0,"f":0,"g":0,"h":0,"p":0,"q":0,"r":0,"s":0},
{"t":"2023-02-22T16:58:11","a":0,"b":0,"c":0,"d":0,"e":0,"f":0,"g":0,"h":0,"p":0,"q":0,"r":0,"s":0},
{"t":"2023-02-22T16:58:14","a":0,"b":0,"c":0,"d":0,"e":0,"f":0,"g":0,"h":0,"p":0,"q":0,"r":0,"s":0},
{"t":"2023-02-22T16:58:17","a":0,"b":0,"c":0,"d":0,"e":0,"f":0,"g":0,"h":0,"p":0,"q":0,"r":0,"s":0},
{"t":"2023-02-22T16:58:20","a":0,"b":0,"c":0,"d":0,"e":0,"f":0,"g":0,"h":0,"p":0,"q":0,"r":0,"s":0},
{"t":"2023-02-22T16:58:23","a":0,"b":0,"c":0,"d":0,"e":0,"f":0,"g":0,"h":0,"p":0,"q":0,"r":0,"s":0},
{"t":"2023-02-22T16:58:26","a":0,"b":0,"c":0,"d":0,"e":0,"f":0,"g":0,"h":0,"p":0,"q":0,"r":0,"s":0},
{"t":"2023-02-22T16:58:29","a":0,"b":0,"c":0,"d":0,"e":0,"f":0,"g":0,"h":0,"p":0,"q":0,"r":0,"s":0},
{"t":"2023-02-22T16:58:32","a":0,"b":0,"c":0,"d":0,"e":0,"f":0,"g":0,"h":0,"p":0,"q":0,"r":0,"s":0},
{"t":"2023-02-22T16:58:35","a":0,"b":0,"c":0,"d":0,"e":0,"f":0,"g":0,"h":0,"p":0,"q":0,"r":0,"s":0},
{"t":"2023-02-22T16:58:38","a":0,"b":0,"c":0,"d":0,"e":0,"f":0,"g":0,"h":0,"p":0,"q":0,"r":0,"s":0},
{"t":"2023-02-22T16:58:41","a":0,"b":0,"c":0,"d":0,"e":0,"f":0,"g":0,"h":0,"p":0,"q":0,"r":0,"s":0},
{"t":"2023-02-22T16:58:44","a":0,"b":0,"c":0,"d":0,"e":0,"f":0,"g":0,"h":0,"p":0,"q":0,"r":0,"s":0},
{"t":"2023-02-22T16:58:47","a":0,"b":0,"c":0,"d":0,"e":0,"f":0,"g":0,"h":0,"p":0,"q":0,"r":0,"s":0},
{"t":"2023-02-22T16:58:50","a":0,"b":0,"c":0,"d":0,"e":0,"f":0,"g":0,"h":0,"p":0,"q":0,"r":0,"s":0},
{"t":"2023-02-22T16:58:53","a":0,"b":0,"c":0,"d":0,"e":0,"f":0,"g":0,"h":0,"p":0,"q":0,"r":0,"s":0},
{"t":"2023-02-22T16:58:56","a":0,"b":0,"c":0,"d":0,"e":0,"f":0,"g":0,"h":0,"p":0,"q":0,"r":0,"s":0},
{"t":"2023-02-22T16:58:59","a":0,"b":0,"c":0,"d":0,"e":0,"f":0,"g":0,"h":0,"p":0,"q":0,"r":0,"s":0},
{"t":"2023-02-22T16:59:02","a":0,"b":0,"c":0,"d":0,"e":0,"f":0,"g":0,"h":0,"p":0,"q":0,"r":0,"s":0},
{"t":"2023-02-22T16:59:05","a":0,"b":0,"c":0,"d":0,"e":0,"f":0,"g":0,"h":0,"p":0,"q":0,"r":0,"s":0},
{"t":"2023-02-22T16:59:08","a":0,"b":0,"c":0,"d":0,"e":0,"f":0,"g":0,"h":0,"p":0,"q":0,"r":0,"s":0},
{"t":"2023-02-22T16:59:11","a":0,"b":0,"c":0,"d":0,"e":0,"f":0,"g":0,"h":0,"p":0,"q":0,"r":0,"s":0},
{"t":"2023-02-22T16:59:14","a":0,"b":0,"c":0,"d":0,"e":0,"f":0,"g":0,"h":0,"p":0,"q":0,"r":0,"s":0},
{"t":"2023-02-22T16:59:17","a":0,"b":0,"c":0,"d":0,"e":0,"f":0,"g":0,"h":0,"p":0,"q":0,"r":0,"s":0},
{"t":"2023-02-22T16:59:20","a":0,"b":0,"c":0,"d":0,"e":0,"f":0,"g":0,"h":0,"p":0,"q":0,"r":0,"s":0},
{"t":"2023-02-22T16:59:23","a":0,"b":0,"c":0,"d":0,"e":0,"f":0,"g":0,"h":0,"p":0,"q":0,"r":0,"s":0},
{"t":"2023-02-22T16:59:26","a":0,"b":0,"c":0,"d":0,"e":0,"f":0,"g":0,"h":0,"p":0,"q":0,"r":0,"s":0},
{"t":"2023-02-22T16:59:29","a":0,"b":0,"c":0,"d":0,"e":0,"f":0,"g":0,"h":0,"p":0,"q":0,"r":0,"s":0},
{"t":"2023-02-22T16:59:32","a":0,"b":0,"c":0,"d":0,"e":0,"f":0,"g":0,"h":0,"p":0,"q":0,"r":0,"s":0},
{"t":"2023-02-22T16:59:35","a":0,"b":0,"c":0,"d":0,"e":0,"f":0,"g":0,"h":0,"p":0,"q":0,"r":0,"s":0},
{"t":"2023-02-22T16:59:38","a":0,"b":0,"c":0,"d":0,"e":0,"f":0,"g":0,"h":0,"p":0,"q":0,"r":0,"s":0},
{"t":"2023-02-22T16:59:41","a":0,"b":0,"c":0,"d":0,"e":0,"f":0,"g":0,"h":0,"p":0,"q":0,"r":0,"s":0},
{"t":"2023-02-22T16:59:44","a":0,"b":0,"c":0,"d":0,"e":0,"f":0,"g":0,"h":0,"p":0,"q":0,"r":0,"s":0},
{"t":"2023-02-22T16:59:47","a":0,"b":0,"c":0,"d":0,"e":0,"f":0,"g":0,"h":0,"p":0,"q":0,"r":0,"s":0},
{"t":"2023-02-22T16:59:50","a":0,"b":0,"c":0,"d":0,"e":0,"f":0,"g":0,"h":0,"p":0,"q":0,"r":0,"s":0},
{"t":"2023-02-22T16:59:53","a":0,"b":0,"c":0,"d":0,"e":0,"f":0,"g":0,"h":0,"p":0,"q":0,"r":0,"s":0},
{"t":"2023-02-22T16:59:56","a":0,"b":0,"c":0,"d":0,"e":0,"f":0,"g":0,"h":0,"p":0,"q":0,"r":0,"s":0},
{"t":"2023-02-22T16:59:59","a":0,"b":0,"c":0,"d":0,"e":0,"f":0,"g":0,"h":0,"p":0,"q":0,"r":0,"s":0},
{"t":"2023-02-22T17:00:02","a":0,"b":0,"c":0,"d":0,"e":0,"f":0,"g":0,"h":0,"p":0,"q":0,"r":0,"s":0},
{"t":"2023-02-22T17:00:05","a":0,"b":0,"c":0,"d":0,"e":0,"f":0,"g":0,"h":0,"p":0,"q":0,"r":0,"s":0},
{"t":"2023-02-22T17:00:08","a":0,"b":0,"c":0,"d":0,"e":0,"f":0,"g":0,"h":0,"p":0,"q":0,"r":0,"s":0},
{"t":"2023-02-22T17:00:11","a":0,"b":0,"c":0,"d":0,"e":0,"f":0,"g":0,"h":0,"p":0,"q":0,"r":0,"s":0},
{"t":"2023-02-22T17:00:14","a":0,"b":0,"c":0,"d":0,"e":0,"f":0,"g":0,"h":0,"p":0,"q":0,"r":0,"s":0},
{"t":"2023-02-22T17:00:17","a":0,"b":0,"c":0,"d":0,"e":0,"f":0,"g":0,"h":0,"p":0,"q":0,"r":0,"s":0},
{"t":"2023-02-22T17:00:20","a":0,"b":0,"c":0,"d":0,"e":0,"f":0,"g":0,"h":0,"p":0,"q":0,"r":0,"s":0},
{"t":"2023-02-22T17:00:23","a":0,"b":0,"c":0,"d":0,"e":0,"f":0,"g":0,"h":0,"p":0,"q":0,"r":0,"s":0}
]},
"vconcat": [
  {
    "width": 1240, "height": 309,
    "title": {"text": "Test 22/02 16:47", "fontSize": 16.7, "fontWeight": "normal", "font": "DejaVu Sans", "color": "black", "offset": 5, "anchor": "middle", "frame": "group"},
    "data": {"name": "d"},
    "transform": [{"fold": ["a", "c", "e", "g", "b", "d", "f", "h"], "as": ["k", "v"]}],
    "mark": {"type": "point", "filled": true, "size": 82, "opacity": 1},
    "encoding": {
      "x": {"field": "t", "type": "temporal",
        "scale": {"domain": [{"year": 2023, "month": 2, "date": 22, "hours": 16, "minutes": 46, "seconds": 34, "milliseconds": 500}, {"year": 2023, "month": 2, "date": 22, "hours": 17, "minutes": 1, "seconds": 2, "milliseconds": 500}]},
        "axis": {"title": null, "format": "%H:%M", "labelFlush": false, "values": [{"year": 2023, "month": 2, "date": 22, "hours": 16, "minutes": 50}, {"year": 2023, "month": 2, "date": 22, "hours": 16, "minutes": 55}, {"year": 2023, "month": 2, "date": 22, "hours": 17, "minutes": 0}]}},
      "y": {"field": "v", "type": "quantitative",
        "scale": {"domain": [-0.05, 0.05], "nice": false, "zero": false},
        "axis": {"title": "Temperature [°C]", "format": ".2f", "values": [-0.04, -0.02, 0, 0.02, 0.04], "titlePadding": 8}},
      "color": {"field": "k", "type": "nominal",
        "scale": {"domain": ["a", "c", "e", "g", "b", "d", "f", "h"], "range": ["#1f77b4", "#ff7f0e", "#2ca02c", "#d62728", "#9467bd", "#8c564b", "#e377c2", "#7f7f7f"]},
        "legend": {"title": null, "orient": "top-right", "labelExpr": "['Sensor #0','Sensor #1','Sensor #2','Sensor #3','Sensor #4','Sensor #5','Sensor #6','Sensor #7'][indexof('abcdefgh', datum.label)]"}}
    }
  },
  {
    "width": 1240, "height": 309,
    "data": {"name": "d"},
    "transform": [{"fold": ["p", "q", "r", "s"], "as": ["k", "v"]}],
    "mark": {"type": "point", "filled": true, "size": 82, "opacity": 1},
    "encoding": {
      "x": {"field": "t", "type": "temporal",
        "scale": {"domain": [{"year": 2023, "month": 2, "date": 22, "hours": 16, "minutes": 46, "seconds": 34, "milliseconds": 500}, {"year": 2023, "month": 2, "date": 22, "hours": 17, "minutes": 1, "seconds": 2, "milliseconds": 500}]},
        "axis": {"title": "Time", "format": "%H:%M", "labelFlush": false, "titlePadding": 4, "values": [{"year": 2023, "month": 2, "date": 22, "hours": 16, "minutes": 50}, {"year": 2023, "month": 2, "date": 22, "hours": 16, "minutes": 55}, {"year": 2023, "month": 2, "date": 22, "hours": 17, "minutes": 0}]}},
      "y": {"field": "v", "type": "quantitative",
        "scale": {"domain": [-0.05, 0.05], "nice": false, "zero": false},
        "axis": {"title": "ΔT [°C]", "format": ".2f", "values": [-0.04, -0.02, 0, 0.02, 0.04], "titlePadding": 8}},
      "color": {"field": "k", "type": "nominal",
        "scale": {"domain": ["p", "q", "r", "s"], "range": ["#1f77b4", "#ff7f0e", "#2ca02c", "#d62728"]},
        "legend": {"title": null, "orient": "top-right", "labelExpr": "['ΔT (#0 - #1)','ΔT (#2 - #3)','ΔT (#4 - #5)','ΔT (#6 - #7)'][indexof('pqrs', datum.label)]"}}
    }
  }
]
}
